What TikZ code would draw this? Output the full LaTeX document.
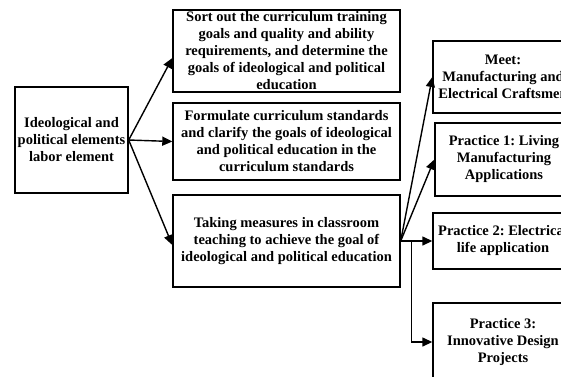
\documentclass[tikz,border=0pt]{standalone}
\usepackage{fontspec}
\setmainfont{Liberation Serif}
\usetikzlibrary{arrows.meta}
\tikzset{
  box/.style={draw, line width=1.4pt, align=center, inner sep=1pt,
    font=\fontsize{14.5}{17}\selectfont\bfseries\frenchspacing},
  arr/.style={line width=1.4pt, -{Triangle[length=10pt,width=9pt]}}
}
\begin{document}
\begin{tikzpicture}[x=1pt,y=-1pt]
\useasboundingbox (0,0) rectangle (561,376);
\draw(71.5,140) node[box, minimum width=113pt, minimum height=106pt] (idea) {Ideological and\\political elements\\labor element};
\draw(286.5,51) node[box, minimum width=227pt, minimum height=82pt] (sort) {Sort out the curriculum training\\goals and quality and ability\\requirements, and determine the\\goals of ideological and political\\education};
\draw(286.5,141.5) node[box, minimum width=227pt, minimum height=77pt] (form) {Formulate curriculum standards\\and clarify the goals of ideological\\and political education in the\\curriculum standards};
\draw(286.5,241) node[box, minimum width=227pt, minimum height=92pt] (take) {Taking measures in classroom\\teaching to achieve the goal of\\ideological and political education};
\draw(503,77) node[box, minimum width=140pt, minimum height=72pt] (meet) {Meet:\\Manufacturing and\\Electrical Craftsmen};
\draw(504,159.5) node[box, minimum width=138pt, minimum height=73pt] (prac1) {Practice 1: Living\\Manufacturing\\Applications};
\draw(503,241) node[box, minimum width=140pt, minimum height=56pt] (prac2) {Practice 2: Electrical\\life application};
\draw(503,342) node[box, minimum width=140pt, minimum height=78pt] (prac3) {Practice 3:\\Innovative Design\\Projects};
\draw[arr] (idea.east) -- ([yshift=-7pt]sort.west);
\draw[arr] (idea.east) -- (form.west);
\draw[arr] (idea.east) -- ([yshift=-4pt]take.west);
\foreach \x in {meet,prac1,prac2}  \draw[arr] (take.east) -- (\x.west);
\draw[line width=1.4pt] (take.east) -- ([xshift=11pt]take.east) coordinate (fork);
\draw[arr] (fork) |- (prac3.west);
\end{tikzpicture}
\end{document}
